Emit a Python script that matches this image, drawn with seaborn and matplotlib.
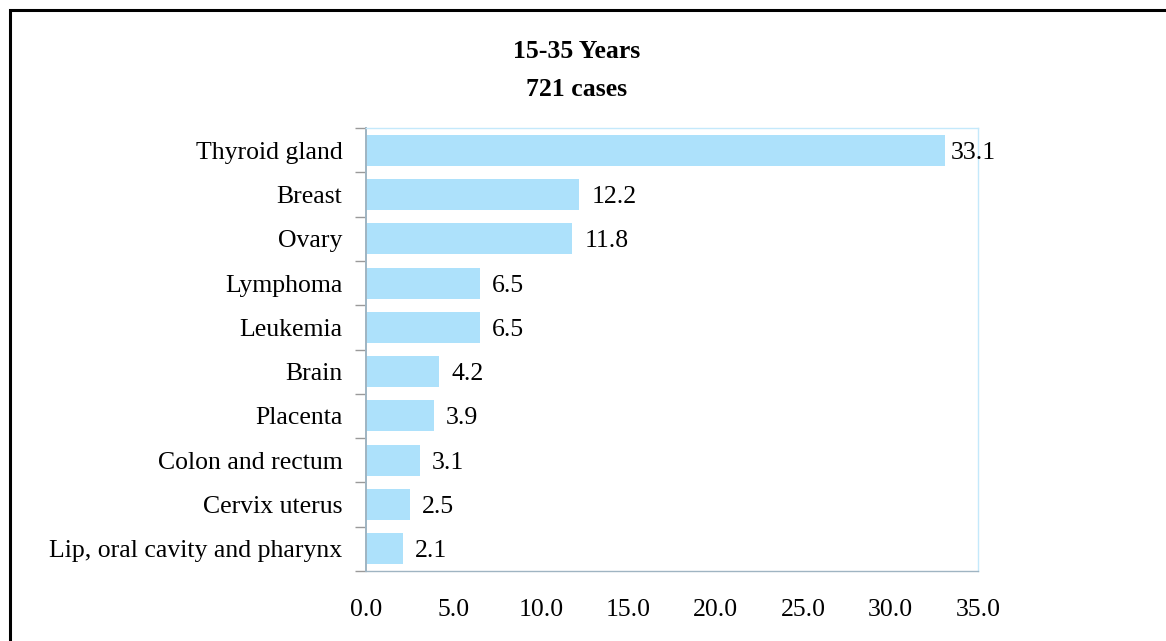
import numpy as np
import pandas as pd
import matplotlib
matplotlib.use("Agg")
import matplotlib.pyplot as plt
import seaborn as sns
from matplotlib.patches import Rectangle

categories = ["Thyroid gland", "Breast", "Ovary", "Lymphoma", "Leukemia", "Brain",
              "Placenta", "Colon and rectum", "Cervix uterus", "Lip, oral cavity and pharynx"]
values = [33.1, 12.2, 11.8, 6.5, 6.5, 4.2, 3.9, 3.1, 2.5, 2.1]
x_ticks = [0, 5, 10, 15, 20, 25, 30, 35]
title_lines = ["15-35 Years", "721 cases"]

sns.set_theme(style="white")
plt.rcParams["font.family"] = ["Liberation Serif", "DejaVu Serif"]
plt.rcParams["text.color"] = "black"

FS = 18.5

df = pd.DataFrame({"site": categories, "pct": values})

fig = plt.figure(figsize=(11.66, 6.41), dpi=100)
ax = fig.add_axes([366/1166, 1 - 571/641, (978-366)/1166, (571-128)/641])

sns.barplot(data=df, x="pct", y="site", orient="h", color="#ade1fb",
            saturation=1, width=0.70, ax=ax, edgecolor="none")

ax.set_xlim(0, 35)
ax.set_ylim(len(categories) - 0.5, -0.5)
ax.set_xticks(x_ticks)
ax.set_xticklabels([f"{t:.1f}" for t in x_ticks], fontsize=FS)
ax.set_xlabel("")
ax.set_ylabel("")
ax.tick_params(axis="x", direction="out", length=6, width=1, color="#9a9a9a",
               pad=14, labelcolor="black")
ax.tick_params(axis="y", which="major", length=0, pad=17, labelsize=FS, labelcolor="black")
ax.set_yticks(np.arange(-0.5, len(categories) + 0.5, 1), minor=True)
ax.tick_params(axis="y", which="minor", direction="out", length=8, width=1,
               color="#9a9a9a", left=True)

ax.spines["left"].set_color("#9fb4c2")
ax.spines["left"].set_linewidth(1.4)
ax.spines["bottom"].set_color("#9fb4c2")
ax.spines["bottom"].set_linewidth(1.0)
for s in ["top", "right"]:
    ax.spines[s].set_color("#c4e9fb")
    ax.spines[s].set_linewidth(1.0)
    ax.spines[s].set_visible(True)

for i, v in enumerate(values):
    pad = 6 if v == max(values) else 12
    ax.annotate(f"{v:.1f}", xy=(v, i), xytext=(pad, 0), textcoords="offset pixels",
                ha="left", va="center_baseline", fontsize=FS, color="black", clip_on=False)

fig.text(577/1166, 1 - 52/641, title_lines[0], ha="center", va="center",
         fontsize=FS, fontweight="bold", color="black")
fig.text(577/1166, 1 - 89/641, title_lines[1], ha="center", va="center",
         fontsize=FS, fontweight="bold", color="black")

border = Rectangle((9.5/1166, -0.2), 1.2, 1 - 9.5/641 + 0.2, transform=fig.transFigure,
                   fill=False, edgecolor="black", linewidth=2.2, clip_on=False)
fig.patches.append(border)

fig.savefig("out.png", dpi=100)
